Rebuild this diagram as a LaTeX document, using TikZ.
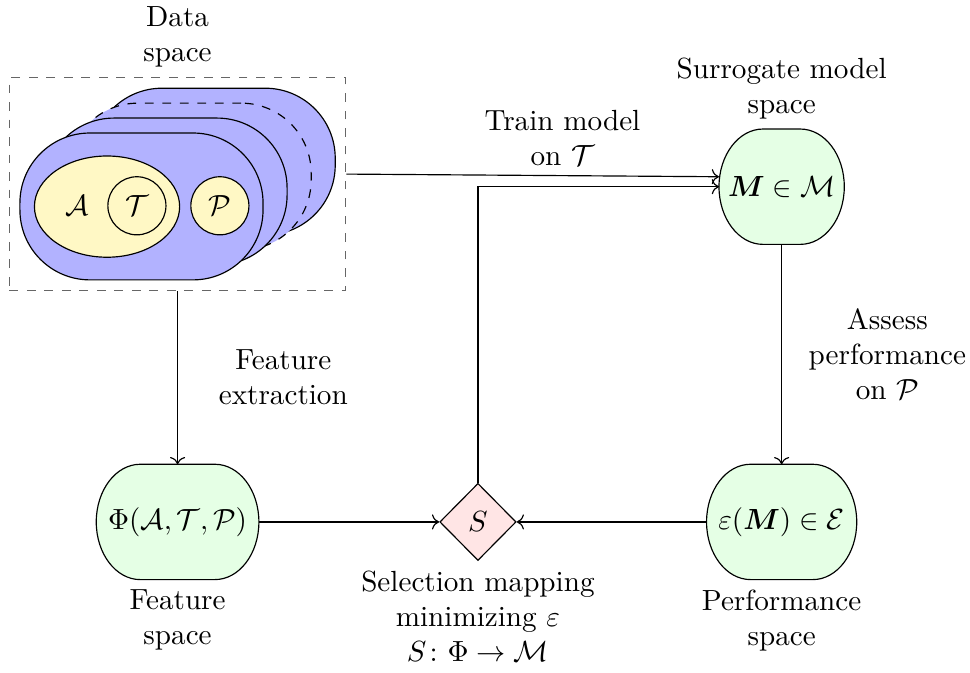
\documentclass[tikz,border=0pt]{standalone}
\usepackage{amsmath,amssymb}
\usepackage[dvipsnames]{xcolor}
\usepackage{tikz}
\usetikzlibrary{shapes,shapes.geometric,arrows,arrows.meta,positioning,fit,backgrounds}
\definecolor{setyellow}{RGB}{255,248,197}

\begin{document}
\begin{tikzpicture}[blob/.style={draw, fill=blue!30, rounded corners=24pt, minimum width=2.93cm, minimum height=1.77cm, inner sep=0},
subset/.style={draw, fill=setyellow, inner sep=0},
spacebox/.style={minimum height=1.39cm, inner sep=2pt, outer sep=0},
caption/.style={align=center},
edgelabel/.style={text width=2.3cm, align=center}]
\useasboundingbox (0,0) rectangle (11.69,-8.11);
%data sets
\node[blob] (d4) at (2.575,-1.948) {};
\node[blob, dashed] (d3) at (2.285,-2.128) {};
\node[blob] (d2) at (1.995,-2.308) {};
\node[blob] (d1) at (1.705,-2.488) {};
\node[subset, ellipse, minimum width=1.75cm, minimum height=1.22cm] (A) at (1.29,-2.49) {};
\node (Alabel) at (0.93,-2.48) {$\mathcal{A}$};
\node[subset, circle, minimum size=0.7cm] (T) at (1.65,-2.48) {$\mathcal{T}$};
\node[subset, circle, minimum size=0.7cm] (P) at (2.65,-2.48) {$\mathcal{P}$};
\node[draw=black!60, dashed, fit=(d1)(d4), inner sep=0.12cm] (data) {};
\node[caption, above=0pt of data] (datalabel) {Data\\space};
%spaces
\node[spacebox, minimum width=1.51cm] (M) at (9.42,-2.25) {$\boldsymbol{M}\in\mathcal{M}$};
\node[spacebox, minimum width=1.96cm] (phi) at (2.14,-6.29) {$\Phi(\mathcal{A},\mathcal{T},\mathcal{P})$};
\node[spacebox, minimum width=1.81cm] (eps) at (9.42,-6.29) {$\varepsilon(\boldsymbol{M})\in\mathcal{E}$};
\begin{scope}[on background layer]
\foreach \n in {M,phi,eps}
  \draw[fill=green!10] ([xshift=0.53cm]\n.north west) -- ([xshift=-0.53cm]\n.north east)
    arc[start angle=90, end angle=-90, x radius=0.53cm, y radius=0.695cm] -- ([xshift=0.53cm]\n.south west)
    arc[start angle=270, end angle=90, x radius=0.53cm, y radius=0.695cm] -- cycle;
\end{scope}
\node[draw, diamond, fill=red!10, minimum width=0.92cm, minimum height=0.93cm, inner sep=0] (S) at (5.76,-6.29) {$S$};
\node[caption, above=0pt of M] (Mlabel) {Surrogate model\\space};
\node[caption, below=0pt of phi] (philabel) {Feature\\space};
\node[caption, below=0pt of S] (Slabel) {Selection mapping\\minimizing $\varepsilon$\\$S\colon\Phi\to\mathcal{M}$};
\node[caption, below=0pt of eps] (epslabel) {Performance\\space};
\draw [->] ([yshift=0.12cm]data.east) -- node[edgelabel, above, pos=0.58] {Train model\\on $\mathcal{T}$} ([yshift=0.12cm]M.west);
\draw [->] (S.north) |- (M.west);
\draw [->] (data.south) -- node[edgelabel, midway, right] {Feature\\extraction} (phi);
\draw [->] (M) -- node[edgelabel, midway, right] {Assess\\performance\\on $\mathcal{P}$} (eps);
\draw [->] (phi) -- (S);
\draw [->] (eps) -- (S);
\end{tikzpicture}
\end{document}
